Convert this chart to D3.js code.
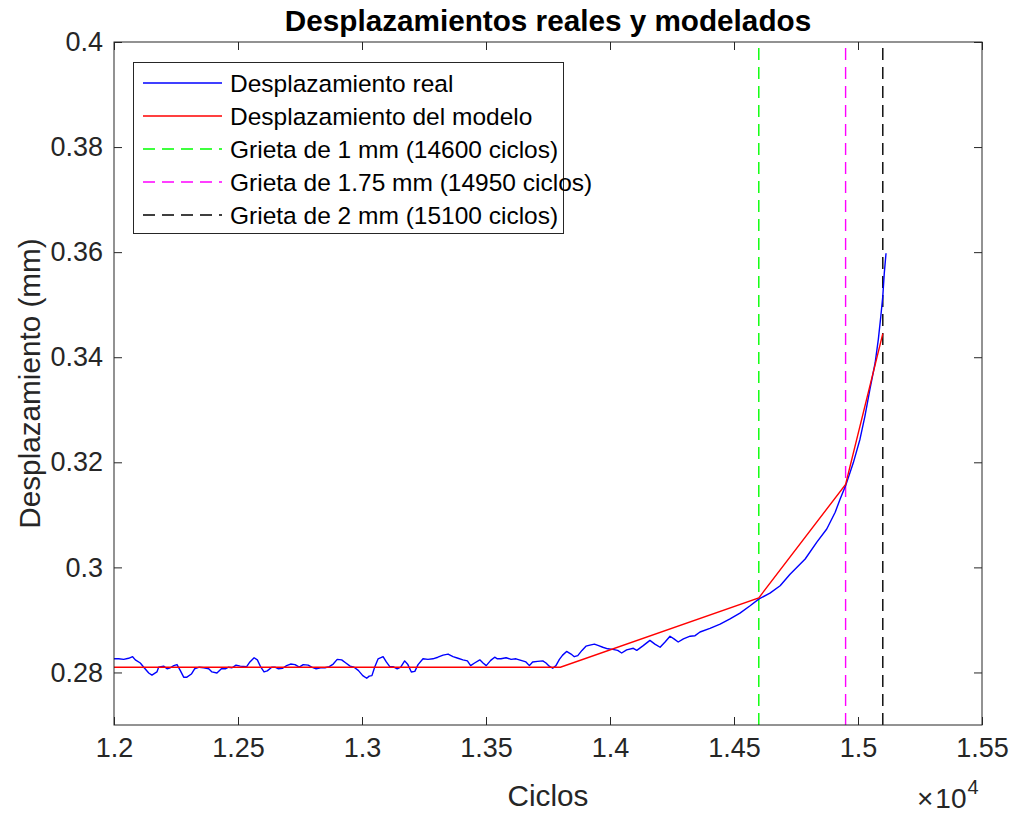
<!DOCTYPE html>
<html>
<head>
<meta charset="utf-8">
<script src="https://cdn.jsdelivr.net/npm/d3@7"></script>
<style>
  html, body { margin: 0; padding: 0; background: #fff; }
  svg { display: block; font-family: "Liberation Sans", Arial, Helvetica, sans-serif; }
</style>
</head>
<body>
<svg id="chart" width="1012" height="814"></svg>
<script>
// Measured displacement (cycles, mm)
const realCycles = [12000,12019,12039,12059,12075,12086,12106,12120,12140,12153,12173,12180,12200,12214,12227,12241,12254,12267,12281,12294,12312,12325,12344,12362,12382,12395,12415,12433,12449,12462,12476,12492,12509,
  12535,12548,12565,12578,12592,12605,12618,12636,12649,12663,12680,12696,12712,12730,12747,12763,12783,12797,12815,12833,12851,12868,12884,12900,12918,12935,12952,12968,12985,13003,13019,13029,
  13040,13051,13065,13085,13098,13112,13125,13142,13156,13172,13185,13199,13213,13226,13246,13266,13286,13306,13327,13347,13367,13387,13407,13425,13438,13454,13475,13488,13501,13519,13535,13546,
  13560,13581,13601,13621,13641,13661,13675,13688,13708,13729,13742,13755,13769,13782,13796,13809,13825,13843,13856,13870,13887,13903,13919,13937,13954,13971,13991,14011,14031,14047,14067,14094,14108,14134,14161,14181,14202,14222,14242,14258,14275,14296,14323,14343,14363,14403,14444,14484,14524,14565,14601,14645,14686,14726,14787,14834,14874,14908,14928,14952,14981,15008,15028,15048,15069,15082,15092,15100,15106,15113];
const realDisp = [0.2826,0.2826,0.2825,0.2827,0.2830,0.2824,0.2818,0.2810,0.2799,0.2795,0.2801,0.2810,0.2812,0.2807,0.2809,0.2813,0.2815,0.2804,0.2791,0.2791,0.2797,0.2807,0.2810,0.2809,0.2807,0.2801,0.2799,0.2807,0.2807,0.2810,0.2809,0.2814,0.2812,
  0.2811,0.2820,0.2828,0.2824,0.2810,0.2801,0.2803,0.2810,0.2810,0.2807,0.2808,0.2813,0.2816,0.2815,0.2810,0.2815,0.2814,0.2810,0.2807,0.2809,0.2809,0.2811,0.2816,0.2825,0.2824,0.2818,0.2812,0.2810,0.2804,0.2794,0.2789,0.2793,
  0.2794,0.2810,0.2826,0.2830,0.2820,0.2811,0.2811,0.2807,0.2810,0.2822,0.2815,0.2801,0.2802,0.2815,0.2826,0.2825,0.2826,0.2829,0.2833,0.2835,0.2830,0.2827,0.2824,0.2822,0.2813,0.2818,0.2824,0.2818,0.2813,0.2823,0.2829,0.2826,
  0.2826,0.2828,0.2825,0.2826,0.2823,0.2820,0.2813,0.2820,0.2821,0.2822,0.2818,0.2812,0.2808,0.2813,0.2825,0.2833,0.2840,0.2835,0.2830,0.2832,0.2842,0.2850,0.2852,0.2854,0.2851,0.2848,0.2845,0.2844,0.2842,0.2837,0.2843,0.2846,0.2842,0.2851,0.2861,0.2854,0.2848,0.2858,0.2869,0.2864,0.2858,0.2864,0.2869,0.2870,0.2877,0.2884,0.2892,0.2902,0.2913,0.2927,0.2940,0.2951,0.2965,0.2987,0.3016,0.3048,0.3073,0.3105,0.3130,0.3158,0.3199,0.3244,0.3288,0.3339,0.3389,0.3434,0.3478,0.3516,0.3560,0.3598];

// Piecewise model
const modelCycles = [12000, 13800, 14600, 14950, 15100];
const modelDisp   = [0.281, 0.281, 0.2942, 0.3158, 0.3445];

// Crack length markers
const crackCycles = [14600, 14950, 15100];
const crackColors = ["#00ff00", "#ff00ff", "#000000"];

const legendLabels = [
  "Desplazamiento real",
  "Desplazamiento del modelo",
  "Grieta de 1 mm (14600 ciclos)",
  "Grieta de 1.75 mm (14950 ciclos)",
  "Grieta de 2 mm (15100 ciclos)"
];

const xTicks = [12000, 12500, 13000, 13500, 14000, 14500, 15000, 15500];
const yTicks = [0.28, 0.30, 0.32, 0.34, 0.36, 0.38, 0.40];

(function draw() {
  const svg = d3.select("#chart");
  const pL = 114, pR = 982, pT = 42, pB = 725;
  const axisColor = "#262626";
  const tickFont = 27, labelFont = 29.7, legendFont = 24.5;

  const x = d3.scaleLinear().domain([12000, 15500]).range([pL, pR]);
  const y = d3.scaleLinear().domain([0.27, 0.40]).range([pB, pT]);

  const plot = svg.append("g");

  // vertical crack markers
  crackCycles.forEach((c, i) => {
    plot.append("line")
      .attr("x1", x(c)).attr("x2", x(c))
      .attr("y1", y(0.27)).attr("y2", y(0.40))
      .attr("stroke", crackColors[i]).attr("stroke-width", 1.4)
      .attr("stroke-dasharray", "12,7");
  });

  const line = d3.line().x(d => x(d[0])).y(d => y(d[1]));

  plot.append("path")
    .datum(realCycles.map((c, i) => [c, realDisp[i]]))
    .attr("d", line).attr("fill", "none")
    .attr("stroke", "#0000ff").attr("stroke-width", 1.4).attr("stroke-linejoin", "round");

  plot.append("path")
    .datum(modelCycles.map((c, i) => [c, modelDisp[i]]))
    .attr("d", line).attr("fill", "none")
    .attr("stroke", "#ff0000").attr("stroke-width", 1.4);

  // axes (ticks inward, box on)
  const fmtX = d => String(+(d / 1e4).toFixed(2));
  const fmtY = d => String(+d.toFixed(2));

  function styleAxis(g) {
    g.select(".domain").remove();
    g.selectAll("line").attr("stroke", axisColor);
    g.selectAll("text").attr("fill", axisColor).style("font-size", tickFont + "px")
      .style("font-family", "\"Liberation Sans\", Arial, sans-serif");
  }

  svg.append("g").attr("transform", `translate(0,${pB})`)
    .call(d3.axisBottom(x).tickValues(xTicks).tickFormat(fmtX).tickSize(-8).tickPadding(13))
    .call(styleAxis);
  svg.append("g").attr("transform", `translate(0,${pT})`)
    .call(d3.axisTop(x).tickValues(xTicks).tickFormat("").tickSize(-8))
    .call(styleAxis);
  svg.append("g").attr("transform", `translate(${pL},0)`)
    .call(d3.axisLeft(y).tickValues(yTicks).tickFormat(fmtY).tickSize(-8).tickPadding(11))
    .call(styleAxis);
  svg.append("g").attr("transform", `translate(${pR},0)`)
    .call(d3.axisRight(y).tickValues(yTicks).tickFormat("").tickSize(-8))
    .call(styleAxis);

  svg.append("rect").attr("x", pL).attr("y", pT)
    .attr("width", pR - pL).attr("height", pB - pT)
    .attr("fill", "none").attr("stroke", axisColor).attr("stroke-width", 1);

  // title and axis labels
  svg.append("text").attr("x", (pL + pR) / 2).attr("y", 31)
    .attr("text-anchor", "middle").attr("font-weight", "bold")
    .attr("font-size", labelFont).attr("fill", "#000")
    .text("Desplazamientos reales y modelados");

  svg.append("text").attr("x", (pL + pR) / 2).attr("y", 806)
    .attr("text-anchor", "middle").attr("font-size", labelFont).attr("fill", axisColor)
    .text("Ciclos");

  svg.append("text")
    .attr("transform", `translate(40,${(pT + pB) / 2}) rotate(-90)`)
    .attr("text-anchor", "middle").attr("font-size", labelFont).attr("fill", axisColor)
    .text("Desplazamiento (mm)");

  // exponent of the x axis
  const expo = svg.append("text").attr("x", 917).attr("y", 808)
    .attr("font-size", 28).attr("fill", axisColor);
  expo.append("tspan").text("×");
  expo.append("tspan").attr("dx", 2).text("10");
  expo.append("tspan").attr("dy", -14).attr("dx", 1).attr("font-size", 20).text("4");

  // legend
  const lg = svg.append("g");
  lg.append("rect").attr("x", 133.5).attr("y", 62.5).attr("width", 430).attr("height", 171)
    .attr("fill", "#fff").attr("stroke", axisColor).attr("stroke-width", 1);
  const legendStyles = [
    { color: "#0000ff", dash: null },
    { color: "#ff0000", dash: null },
    { color: crackColors[0], dash: "12,7" },
    { color: crackColors[1], dash: "12,7" },
    { color: crackColors[2], dash: "12,7" }
  ];
  legendLabels.forEach((lab, i) => {
    const cy = 83 + i * 33;
    const l = lg.append("line").attr("x1", 143).attr("x2", 222).attr("y1", cy).attr("y2", cy)
      .attr("stroke", legendStyles[i].color).attr("stroke-width", 1.4);
    if (legendStyles[i].dash) l.attr("stroke-dasharray", legendStyles[i].dash);
    lg.append("text").attr("x", 230).attr("y", cy).attr("dy", "0.35em")
      .attr("font-size", legendFont).attr("fill", "#000").text(lab);
  });
})();
</script>
</body>
</html>
